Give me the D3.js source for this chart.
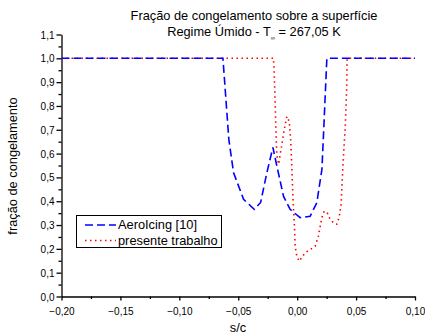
<!DOCTYPE html>
<html><head><meta charset="utf-8">
<script src="https://cdn.jsdelivr.net/npm/d3@7"></script>
<style>body{margin:0;background:#fff}svg{display:block}</style>
</head><body>
<svg id="c" width="425" height="336"></svg>
<script>
const xTicks = [-0.20,-0.15,-0.10,-0.05,0.00,0.05,0.10];
const yTicks = [0.0,0.1,0.2,0.3,0.4,0.5,0.6,0.7,0.8,0.9,1.0,1.1];
const aeroX = [-0.20,-0.063,-0.058,-0.054,-0.0455,-0.0364,-0.031,-0.0257,-0.0206,-0.0172,-0.0116,-0.006,0.0025,0.011,0.0167,0.021,0.0223,0.0252,0.10];
const aeroY = [1.0,1.0,0.66,0.52,0.408,0.366,0.395,0.52,0.626,0.547,0.421,0.366,0.331,0.337,0.394,0.534,0.674,1.0,1.0];
const presX = [-0.20,-0.0201,-0.0195,-0.0186,-0.0178,-0.0172,-0.0157,-0.0144,-0.0127,-0.011,-0.0087,-0.0068,-0.0055,-0.0045,-0.0034,-0.0023,-0.0017,-0.0003,0.0017,0.0068,0.011,0.0153,0.018,0.0209,0.0229,0.0254,0.028,0.0314,0.0336,0.0356,0.0373,0.0387,0.0398,0.0407,0.042,0.0424,0.10];
const presY = [1.0,1.0,0.941,0.80,0.66,0.59,0.555,0.597,0.647,0.70,0.756,0.735,0.66,0.534,0.395,0.295,0.211,0.169,0.148,0.184,0.197,0.211,0.253,0.331,0.358,0.353,0.324,0.307,0.303,0.332,0.387,0.534,0.632,0.70,0.87,1.0,1.0];
const seriesNames = ["AeroIcing [10]","presente trabalho"];
const titleLine1 = "Fração de congelamento sobre a superfície";
const fmt = v => d3.format(".2f")(v).replace(".",",");
const fmtY = v => d3.format(".1f")(v).replace(".",",");

const svg = d3.select("#c");
const font = "Liberation Sans, Arial, sans-serif";
const x = d3.scaleLinear().domain([-0.20,0.10]).range([61.5,415]);
const y = d3.scaleLinear().domain([0,1.1]).range([296.5,34.5]);

const xMinor = d3.range(-0.175,0.1,0.05);
const yMinor = d3.range(0.05,1.1,0.1);
const xa = svg.append("g").attr("transform","translate(0,296.5)")
  .call(d3.axisBottom(x).tickValues(xTicks).tickFormat(fmt).tickSize(4).tickSizeOuter(0));
svg.append("g").attr("transform","translate(0,296.5)")
  .call(d3.axisBottom(x).tickValues(xMinor).tickFormat("").tickSize(2.5).tickSizeOuter(0))
  .select(".domain").remove();
const ya = svg.append("g").attr("transform","translate(61.5,0)")
  .call(d3.axisLeft(y).tickValues(yTicks).tickFormat(fmtY).tickSize(5).tickSizeOuter(0));
svg.append("g").attr("transform","translate(61.5,0)")
  .call(d3.axisLeft(y).tickValues(yMinor).tickFormat("").tickSize(3).tickSizeOuter(0))
  .select(".domain").remove();
svg.selectAll(".tick line, .domain").attr("stroke","#000").attr("stroke-width",1.3);
svg.selectAll(".tick text").attr("font-family",font).attr("font-size",10).attr("fill","#000");
xa.selectAll(".tick text").attr("dy","0").attr("y",18);
ya.selectAll(".tick text").attr("x",-7).attr("dy","0.35em");

const line = d3.line().x(d=>x(d[0])).y(d=>y(d[1]));
const aero = aeroX.map((v,i)=>[v,aeroY[i]]);
const pres = presX.map((v,i)=>[v,presY[i]]);
svg.append("path").datum(pres).attr("d",line).attr("fill","none")
  .attr("stroke","#ff0000").attr("stroke-width",1.6).attr("stroke-dasharray","1.5,3.5");
svg.append("path").datum(aero).attr("d",line).attr("fill","none")
  .attr("stroke","#0000ff").attr("stroke-width",1.6).attr("stroke-dasharray","8,4");

// title
svg.append("text").attr("x",254).attr("y",20).attr("text-anchor","middle")
  .attr("font-family",font).attr("font-size",12.8).text(titleLine1);
const t2 = svg.append("text").attr("x",254).attr("y",35.5).attr("text-anchor","middle")
  .attr("font-family",font).attr("font-size",12.8);
t2.append("tspan").text("Regime Úmido - T");
t2.append("tspan").attr("font-size",6).attr("dy",4).text("∞");
t2.append("tspan").attr("dy",-4).text(" = 267,05 K");

// axis titles
svg.append("text").attr("x",238).attr("y",332).attr("text-anchor","middle")
  .attr("font-family",font).attr("font-size",12.8).text("s/c");
svg.append("text").attr("transform","translate(17,166) rotate(-90)").attr("text-anchor","middle")
  .attr("font-family",font).attr("font-size",12.8).text("fração de congelamento");

// legend
const lg = svg.append("g");
lg.append("rect").attr("x",76.5).attr("y",215.5).attr("width",145).attr("height",32)
  .attr("fill","#fff").attr("stroke","#000").attr("stroke-width",1);
const styles = [{c:"#0000ff",d:"8,4"},{c:"#ff0000",d:"1.5,3.5"}];
seriesNames.forEach((n,i)=>{
  const yy = 225 + i*15.5;
  lg.append("line").attr("x1",85).attr("x2",116).attr("y1",yy).attr("y2",yy)
    .attr("stroke",styles[i].c).attr("stroke-width",1.6).attr("stroke-dasharray",styles[i].d);
  lg.append("text").attr("x",118).attr("y",yy).attr("dy","0.35em")
    .attr("font-family",font).attr("font-size",12.8).text(n);
});
</script>
</body></html>
